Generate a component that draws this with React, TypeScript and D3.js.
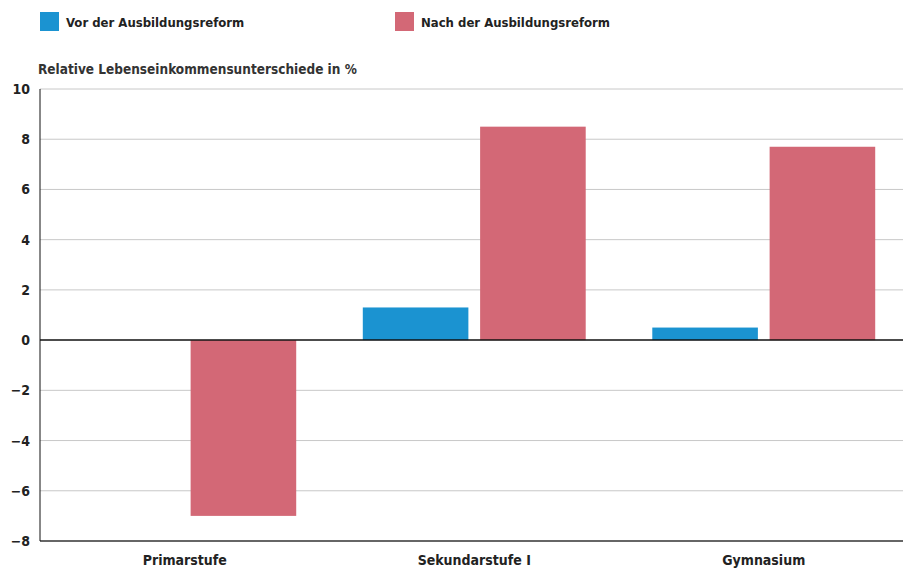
import React, { useRef, useEffect } from 'react';
import * as d3 from 'd3';

const categories = ['Primarstufe', 'Sekundarstufe I', 'Gymnasium'];
const seriesNames = ['Vor der Ausbildungsreform', 'Nach der Ausbildungsreform'];
const vorValues = [0, 1.3, 0.5];
const nachValues = [-7.0, 8.5, 7.7];
const yTicks = [-8, -6, -4, -2, 0, 2, 4, 6, 8, 10];
const colors = ['#1b93d1', '#d36876'];

export default function App() {
  const ref = useRef<SVGSVGElement>(null);

  useEffect(() => {
    if (!ref.current) return;
    const svg = d3.select(ref.current);
    svg.selectAll('*').remove();

    const width = 903;
    const height = 569;
    const margin = { top: 89, right: 0, bottom: 28, left: 40 };
    const font = '"DejaVu Sans Condensed", "DejaVu Sans", sans-serif';

    // bands are a little wider than the plot so the last group sits like the original
    const x0 = d3.scaleBand()
      .domain(categories)
      .range([margin.left, 908.5])
      .paddingInner(0.23)
      .paddingOuter(0.115);

    const x1 = d3.scaleBand()
      .domain(seriesNames)
      .range([0, x0.bandwidth()])
      .paddingInner(0.1);

    const y = d3.scaleLinear()
      .domain([-8, 10])
      .range([height - margin.bottom, margin.top]);

    // grid lines
    svg.append('g')
      .selectAll('line')
      .data(yTicks.filter(d => d !== 0 && d !== -8))
      .enter()
      .append('line')
      .attr('x1', margin.left)
      .attr('x2', width - margin.right)
      .attr('y1', d => y(d))
      .attr('y2', d => y(d))
      .attr('stroke', '#c8c8c8')
      .attr('stroke-width', 1);

    // bars
    const rows = categories.map((c, i) => ({ c, values: [vorValues[i], nachValues[i]] }));
    const groups = svg.append('g')
      .selectAll('g')
      .data(rows)
      .enter()
      .append('g')
      .attr('transform', d => `translate(${x0(d.c)},0)`);

    groups.selectAll('rect')
      .data(d => d.values.map((v, j) => ({ v, j })))
      .enter()
      .append('rect')
      .attr('x', d => x1(seriesNames[d.j]) as number)
      .attr('width', x1.bandwidth())
      .attr('y', d => y(Math.max(0, d.v)))
      .attr('height', d => Math.abs(y(d.v) - y(0)))
      .attr('fill', d => colors[d.j]);

    // zero line, bottom line and left axis line
    svg.append('line')
      .attr('x1', margin.left).attr('x2', width)
      .attr('y1', y(0)).attr('y2', y(0))
      .attr('stroke', '#111').attr('stroke-width', 1.5);
    svg.append('line')
      .attr('x1', margin.left).attr('x2', width)
      .attr('y1', y(-8)).attr('y2', y(-8))
      .attr('stroke', '#333').attr('stroke-width', 1.5);
    svg.append('line')
      .attr('x1', margin.left).attr('x2', margin.left)
      .attr('y1', y(10)).attr('y2', y(-8))
      .attr('stroke', '#111').attr('stroke-width', 1);

    // y tick labels
    svg.append('g')
      .selectAll('text')
      .data(yTicks)
      .enter()
      .append('text')
      .attr('x', 30)
      .attr('y', d => y(d) + 5)
      .attr('text-anchor', 'end')
      .attr('font-family', font)
      .attr('font-weight', 'bold')
      .attr('font-size', 14)
      .attr('fill', '#222')
      .text(d => (d < 0 ? '\u2212' + Math.abs(d) : String(d)));

    // category labels
    svg.append('g')
      .selectAll('text')
      .data(categories)
      .enter()
      .append('text')
      .attr('x', d => (x0(d) as number) + x0.bandwidth() / 2)
      .attr('y', height - 4)
      .attr('text-anchor', 'middle')
      .attr('font-family', font)
      .attr('font-weight', 'bold')
      .attr('font-size', 14)
      .attr('fill', '#222')
      .text(d => d);

    // axis title
    svg.append('text')
      .attr('x', 38)
      .attr('y', 74)
      .attr('font-family', font)
      .attr('font-weight', 'bold')
      .attr('font-size', 13.5)
      .attr('fill', '#333')
      .text('Relative Lebenseinkommensunterschiede in %');

    // legend
    const legend = svg.append('g')
      .selectAll('g')
      .data(seriesNames)
      .enter()
      .append('g')
      .attr('transform', (_, i) => `translate(${40 + i * 355},12)`);
    legend.append('rect')
      .attr('width', 19)
      .attr('height', 19)
      .attr('fill', (_, i) => colors[i]);
    legend.append('text')
      .attr('x', 26)
      .attr('y', 15)
      .attr('font-family', font)
      .attr('font-weight', 'bold')
      .attr('font-size', 13)
      .attr('fill', '#222')
      .text(d => d);
  }, []);

  return (
    <svg
      ref={ref}
      width={903}
      height={569}
      style={{ position: 'absolute', left: 0, top: 0, background: '#fff' }}
    />
  );
}
